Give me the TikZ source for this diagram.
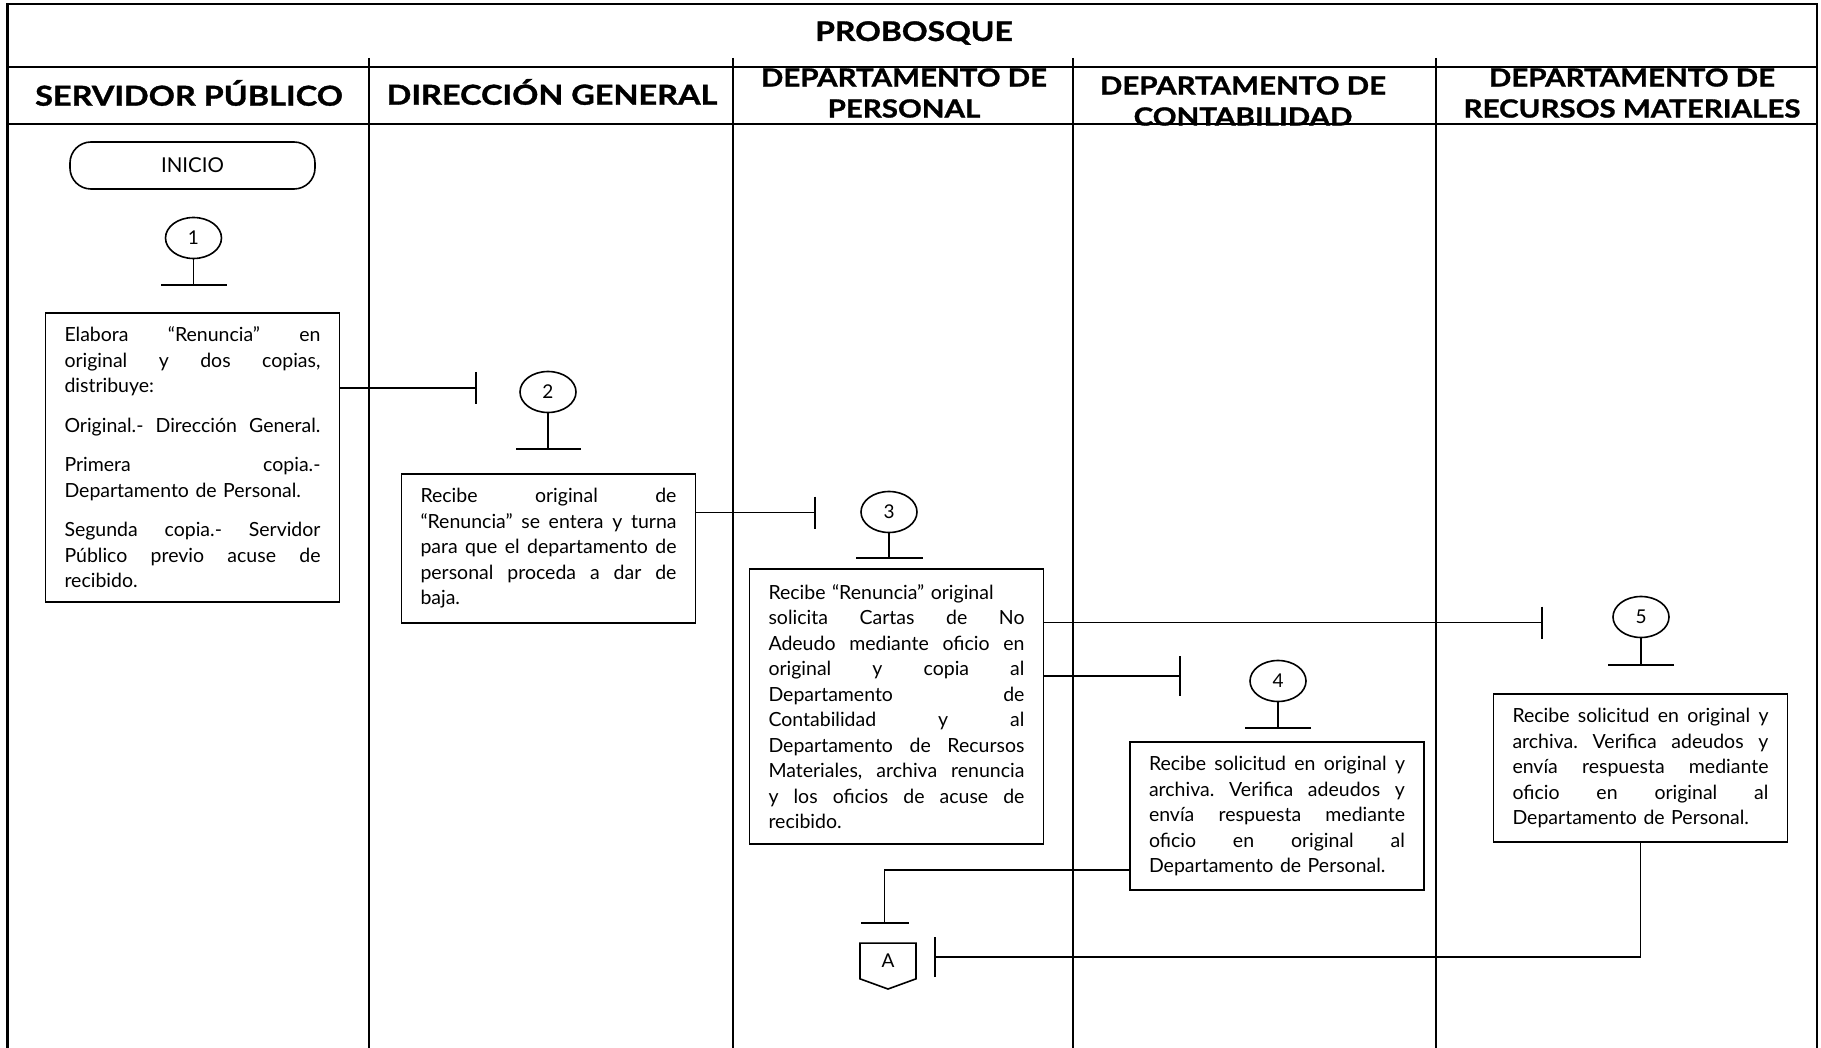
\documentclass[tikz,border=0pt]{standalone}
\usepackage{fontspec}
\setmainfont{Lato}
\newfontfamily\headfont{Lato}[FakeStretch=1.18,BoldFeatures={FakeBold=1.2}]
\usepackage{tikz}
\usetikzlibrary{arrows.meta,shapes.geometric,shapes.symbols}
\newcommand{\jl}[1]{\makebox[256pt][s]{\spaceskip=\fontdimen2\font plus 1fil\relax #1}}
\frenchspacing

\begin{document}
\begin{tikzpicture}[x=1pt,y=-1pt,
        flowbox/.style={draw,line width=1.6pt,text width=256pt,inner xsep=19pt,inner ysep=0pt,align=left,font=\fontsize{19.5}{25.5}\selectfont},
        stepnum/.style={draw,ellipse,line width=1.6pt,minimum width=56pt,minimum height=41pt,inner sep=0pt,font=\fontsize{19}{22}\selectfont},
        headtxt/.style={font=\headfont\bfseries\fontsize{25}{31}\selectfont,align=center},
        laneline/.style={line width=2pt},
        frameline/.style={line width=2.6pt},
        conn/.style={line width=1.8pt},
        endbar/.style={-{Bar[width=#1]}}]
            \useasboundingbox (0,0) rectangle (1821,1048);
            % headers
            \node[headtxt,font=\headfont\bfseries\fontsize{27}{31}\selectfont] at (914,33) (title) {PROBOSQUE};
            \node[headtxt,font=\headfont\bfseries\fontsize{27.5}{31}\selectfont] at (189,93) (h1) {SERVIDOR PÚBLICO};
            \node[headtxt,font=\headfont\bfseries\fontsize{27.5}{31}\selectfont] at (552,92) (h2) {DIRECCIÓN GENERAL};
            \node[headtxt] at (904,93) (h3) {DEPARTAMENTO DE\\PERSONAL};
            \node[headtxt] at (1243,101) (h4) {DEPARTAMENTO DE\\CONTABILIDAD};
            \node[headtxt] at (1632,93) (h5) {DEPARTAMENTO DE\\RECURSOS MATERIALES};
            % frame and lanes
            \draw[frameline] (7.5,1048) -- (7.5,4) -- (1817,4) -- (1817,1048);
            \draw[frameline] (7.5,67) -- (1817,67);
            \draw[frameline] (7.5,124) -- (1817,124);
            \foreach \x in {369,733,1073,1436}
                \draw[laneline] (\x,58) -- (\x,1048);
            % servidor publico
            \node[draw,line width=1.6pt,rounded corners=21pt,minimum width=245pt,minimum height=47pt,font=\fontsize{20.5}{22}\selectfont] at (192.5,165.5) (ini) {INICIO};
            \node[stepnum] at (193.5,238) (s1) {1};
            \draw[conn,endbar=66pt] (s1.south) -- ++(0,27);
            \node[flowbox,minimum height=289pt] at (192.5,457.5) (b1) {\jl{Elabora “Renuncia” en}\\
                \jl{original y dos copias,}\\
                distribuye:\\[14pt]
                \jl{Original.- Dirección General.}\\[14pt]
                \jl{Primera copia.-}\\
                Departamento de Personal.\\[14pt]
                \jl{Segunda copia.- Servidor}\\
                \jl{Público previo acuse de}\\
                recibido.};
            % direccion general
            \coordinate (t2) at (477,388);
            \draw[conn,endbar=32pt] (b1.east |- t2) -- (t2);
            \node[stepnum] at (548,392) (s2) {2};
            \draw[conn,endbar=65pt] (s2.south) -- ++(0,36.5);
            \node[flowbox,minimum height=149pt] at (548.5,548.5) (b2) {\jl{Recibe original de}\\
                \jl{“Renuncia” se entera y turna}\\
                \jl{para que el departamento de}\\
                \jl{personal proceda a dar de}\\
                baja.};
            % departamento de personal
            \coordinate (t3) at (816,512.5);
            \draw[conn,endbar=32pt] (b2.east |- t3) -- (t3);
            \node[stepnum] at (889,512) (s3) {3};
            \draw[conn,endbar=67pt] (s3.south) -- ++(0,25.5);
            \node[flowbox,minimum height=275pt] at (896.5,706.5) (b3) {Recibe “Renuncia” original\\
                \jl{solicita Cartas de No}\\
                \jl{Adeudo mediante oficio en}\\
                \jl{original y copia al}\\
                \jl{Departamento de}\\
                \jl{Contabilidad y al}\\
                \jl{Departamento de Recursos}\\
                \jl{Materiales, archiva renuncia}\\
                \jl{y los oficios de acuse de}\\
                recibido.};
            % departamento de contabilidad
            \coordinate (t4) at (1181,676);
            \draw[conn,endbar=40pt] (b3.east |- t4) -- (t4);
            \node[stepnum] at (1278,681) (s4) {4};
            \draw[conn,endbar=66pt] (s4.south) -- ++(0,26.5);
            \node[flowbox,minimum height=148pt] at (1277,816) (b4) {\jl{Recibe solicitud en original y}\\
                \jl{archiva. Verifica adeudos y}\\
                \jl{envía respuesta mediante}\\
                \jl{oficio en original al}\\
                Departamento de Personal.};
            % departamento de recursos materiales
            \coordinate (t5) at (1543,622.5);
            \draw[conn,endbar=32pt] (b3.east |- t5) -- (t5);
            \node[stepnum] at (1641,617) (s5) {5};
            \draw[conn,endbar=66pt] (s5.south) -- ++(0,27.5);
            \node[flowbox,minimum height=148pt] at (1640.5,768) (b5) {\jl{Recibe solicitud en original y}\\
                \jl{archiva. Verifica adeudos y}\\
                \jl{envía respuesta mediante}\\
                \jl{oficio en original al}\\
                Departamento de Personal.};
            % conector A
            \node[draw,signal,signal to=south,signal pointer angle=140,line width=1.6pt,minimum width=56pt,minimum height=38pt,inner sep=0pt,font=\fontsize{19}{22}\selectfont] at (888,961) (ca) {A};
            \coordinate (j4) at (884.5,870);
            \coordinate (ta) at (884.5,924);
            \draw[conn,endbar=48pt] (b4.west |- j4) -| (ta);
            \coordinate (tb) at (934,957);
            \draw[conn,endbar=40pt] (b5.south) |- (tb);
        \end{tikzpicture}
\end{document}
